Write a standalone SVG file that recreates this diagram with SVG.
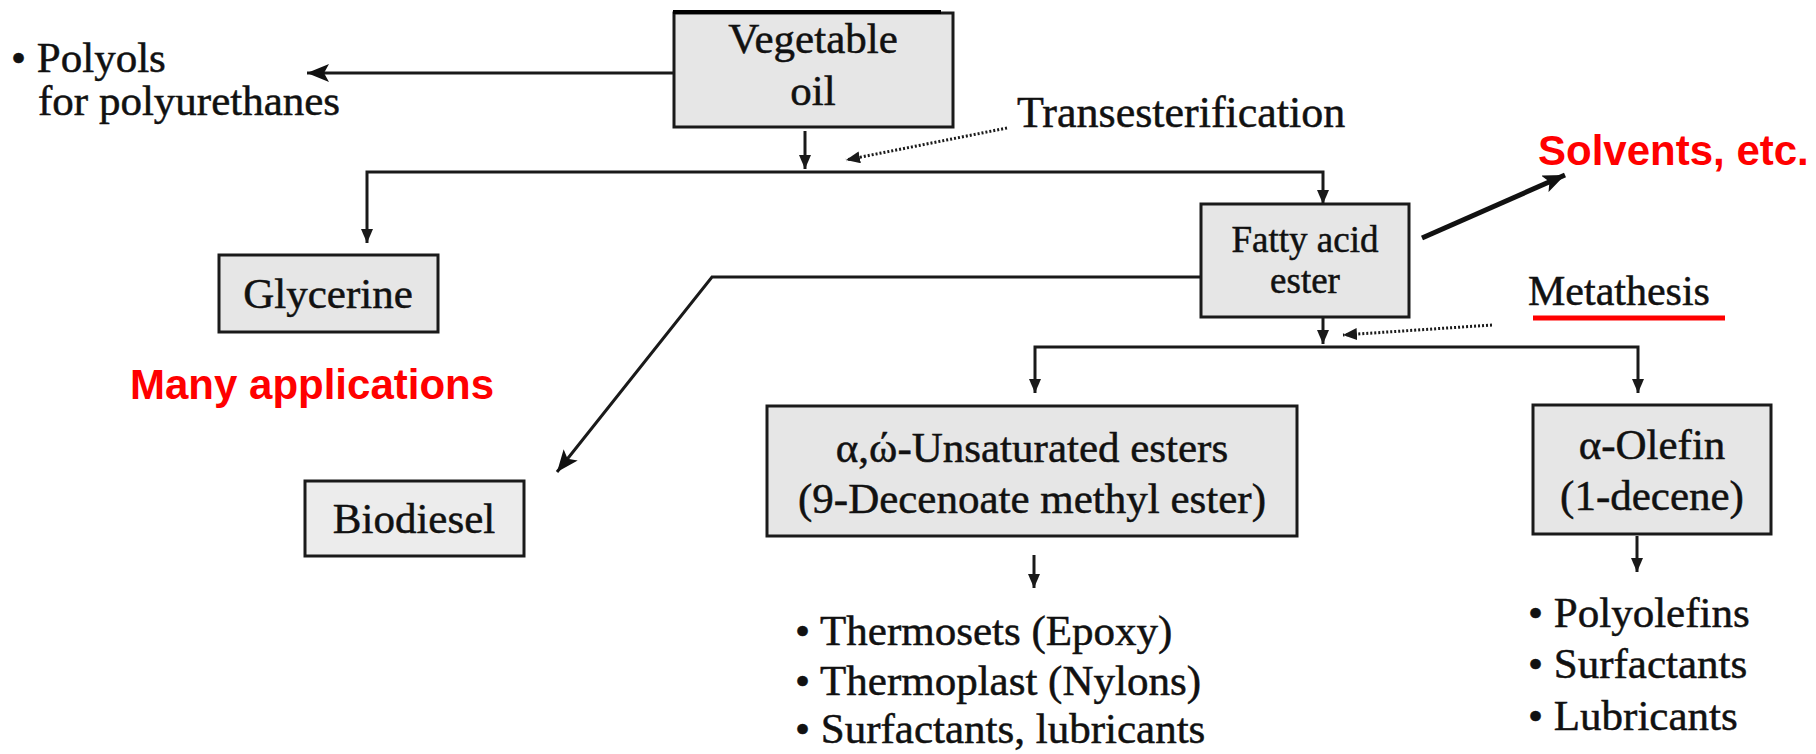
<svg xmlns="http://www.w3.org/2000/svg" width="1816" height="754" viewBox="0 0 1816 754">
<style>
.box{fill:#e6e6e6;stroke:#1a1a1a;stroke-width:3}
.t{font-family:"Liberation Serif","Times New Roman",serif;fill:#111;stroke:#111;stroke-width:0.5;font-size:43px}
.c{text-anchor:middle}
.red{font-family:"Liberation Sans",Arial,sans-serif;font-weight:bold;fill:#ff0000;font-size:42px}
.ln{fill:none;stroke:#1a1a1a;stroke-width:3}
.dot{fill:none;stroke:#1a1a1a;stroke-width:3;stroke-dasharray:2 2}
</style>
<defs>
<marker id="ah" markerWidth="14" markerHeight="12" refX="14" refY="6" orient="auto" markerUnits="userSpaceOnUse"><path d="M0,0 L14,6 L0,12 z" fill="#1a1a1a"/></marker>
<marker id="ahb" markerWidth="22" markerHeight="18" refX="22" refY="9" orient="auto" markerUnits="userSpaceOnUse"><path d="M0,0 L22,9 L0,18 L5,9 z" fill="#111"/></marker>
</defs>
<rect width="1816" height="754" fill="#fff"/>

<g id="connectors">
<path class="ln" d="M673,73 H307" marker-end="url(#ahb)"/>
<path class="ln" d="M805,131 V169" marker-end="url(#ah)"/>
<path class="ln" d="M805,172 H367 V243" marker-end="url(#ah)"/>
<path class="ln" d="M805,172 H1323 V204" marker-end="url(#ah)"/>
<path class="dot" d="M1007,128 L846,160" marker-end="url(#ah)"/>
<path class="ln" d="M1201,277 H712 L557,472" marker-end="url(#ahb)"/>
<path fill="none" stroke="#111" stroke-width="5" d="M1422,238 L1565,175" marker-end="url(#ahb)"/>
<path class="ln" d="M1323,318 V344" marker-end="url(#ah)"/>
<path class="dot" d="M1492,325 L1343,335" marker-end="url(#ah)"/>
<path class="ln" d="M1323,347 H1035 V393" marker-end="url(#ah)"/>
<path class="ln" d="M1323,347 H1638 V393" marker-end="url(#ah)"/>
<path class="ln" d="M1034,555 V588" marker-end="url(#ah)"/>
<path class="ln" d="M1637,536 V572" marker-end="url(#ah)"/>
</g>

<g id="vegetable-oil">
<rect class="box" x="674" y="13" width="279" height="114"/>
<line x1="673" y1="12" x2="941" y2="12" stroke="#000" stroke-width="4"/>
<text class="t c" x="813" y="53">Vegetable</text>
<text class="t c" x="813" y="105">oil</text>
</g>

<g id="polyols">
<text class="t" x="11" y="72">• Polyols</text>
<text class="t" x="38" y="115">for polyurethanes</text>
</g>

<g id="transesterification">
<text class="t" x="1017" y="127" style="font-size:44px">Transesterification</text>
</g>

<g id="glycerine">
<rect class="box" x="219" y="255" width="219" height="77"/>
<text class="t c" x="328" y="308">Glycerine</text>
</g>

<g id="many-applications">
<text class="red" x="130" y="399">Many applications</text>
</g>

<g id="fatty-acid-ester">
<rect class="box" x="1201" y="204" width="208" height="113"/>
<text class="t c" x="1305" y="252" style="font-size:37px">Fatty acid</text>
<text class="t c" x="1305" y="293" style="font-size:37px">ester</text>
</g>

<g id="solvents">
<text class="red" x="1538" y="165">Solvents, etc.</text>
</g>

<g id="metathesis">
<text class="t" x="1528" y="305" style="font-size:42px">Metathesis</text>
<line x1="1533" y1="318" x2="1725" y2="318" stroke="#ff0000" stroke-width="5"/>
</g>

<g id="biodiesel">
<rect class="box" x="305" y="481" width="219" height="75" style="fill:#ececec"/>
<text class="t c" x="414" y="533">Biodiesel</text>
</g>

<g id="unsaturated-esters">
<rect class="box" x="767" y="406" width="530" height="130"/>
<text class="t c" x="1032" y="462">α,ώ-Unsaturated esters</text>
<text class="t c" x="1032" y="513">(9-Decenoate methyl ester)</text>
</g>

<g id="alpha-olefin">
<rect class="box" x="1533" y="405" width="238" height="129"/>
<text class="t c" x="1652" y="459">α-Olefin</text>
<text class="t c" x="1652" y="510">(1-decene)</text>
</g>

<g id="ester-uses">
<text class="t" x="795" y="645">• Thermosets (Epoxy)</text>
<text class="t" x="795" y="695">• Thermoplast (Nylons)</text>
<text class="t" x="795" y="743">• Surfactants, lubricants</text>
</g>

<g id="olefin-uses">
<text class="t" x="1528" y="627">• Polyolefins</text>
<text class="t" x="1528" y="678">• Surfactants</text>
<text class="t" x="1528" y="730">• Lubricants</text>
</g>
</svg>
